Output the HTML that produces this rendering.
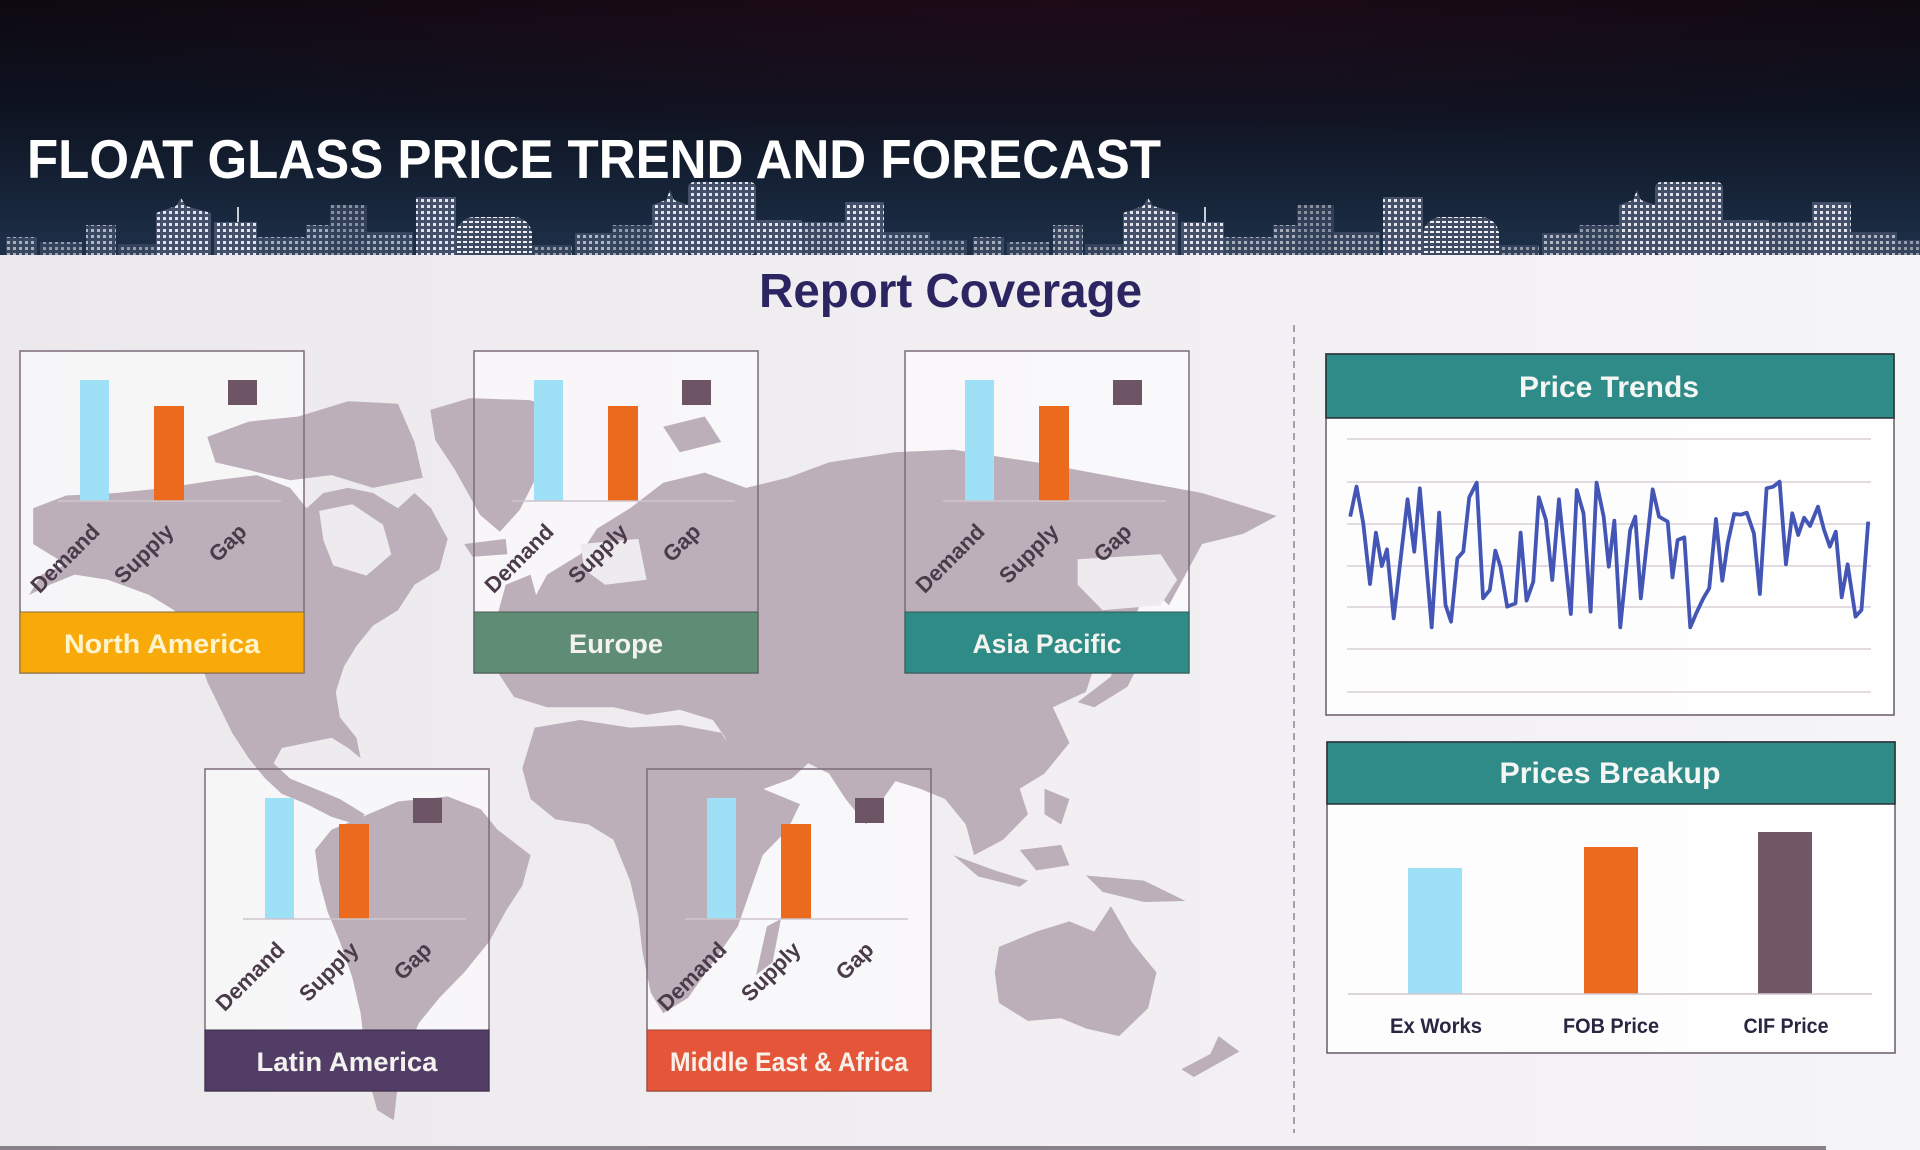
<!DOCTYPE html>
<html><head><meta charset="utf-8"><style>
html,body{margin:0;padding:0;background:#f1eef2;}
svg{display:block;}
text{font-family:"Liberation Sans",Arial,sans-serif;font-weight:bold;}
</style></head><body>
<svg width="1920" height="1150" viewBox="0 0 1920 1150" xmlns="http://www.w3.org/2000/svg">
<defs>
<linearGradient id="hdr" x1="0" y1="0" x2="0" y2="1">
<stop offset="0" stop-color="#0b0910"/><stop offset="0.45" stop-color="#0e1422"/><stop offset="1" stop-color="#1d3049"/>
</linearGradient>
<radialGradient id="maroon" cx="0.55" cy="0" r="0.6">
<stop offset="0" stop-color="#3a0c22" stop-opacity="0.4"/><stop offset="1" stop-color="#3a0c22" stop-opacity="0"/>
</radialGradient>
<linearGradient id="bodyg" x1="0" y1="0" x2="1" y2="0">
<stop offset="0" stop-color="#ece9ed"/><stop offset="0.6" stop-color="#f2eff3"/><stop offset="1" stop-color="#f5f4f7"/>
</linearGradient>
<pattern id="w" width="6" height="6" patternUnits="userSpaceOnUse"><rect width="6" height="6" fill="#45506a"/><rect x="1" y="1" width="3" height="3" fill="#e2e5ee"/></pattern>
<pattern id="w2" width="6" height="5" patternUnits="userSpaceOnUse"><rect width="6" height="5" fill="#3f4a63"/><rect x="1" y="1" width="4" height="2" fill="#eef0f5"/></pattern>
<g id="city">
<rect x="6" y="237" width="31" height="18" fill="url(#w)" opacity="0.7"/>
<rect x="40" y="242" width="42" height="13" fill="url(#w)" opacity="0.6"/>
<rect x="86" y="225" width="30" height="30" fill="url(#w)" opacity="0.75"/>
<rect x="118" y="244" width="38" height="11" fill="url(#w)" opacity="0.6"/>
<polygon points="156,255 156,213 176,206 181,198 186,206 211,213 211,255" fill="url(#w)"/>
<rect x="214" y="222" width="43" height="33" fill="url(#w)"/>
<rect x="237" y="207" width="2" height="15" fill="#c8ccd8"/>
<rect x="257" y="237" width="49" height="18" fill="url(#w)" opacity="0.7"/>
<rect x="306" y="225" width="24" height="30" fill="url(#w)" opacity="0.7"/>
<rect x="330" y="205" width="37" height="50" fill="url(#w)" opacity="0.55"/>
<rect x="367" y="232" width="46" height="23" fill="url(#w)" opacity="0.7"/>
<rect x="416" y="197" width="40" height="58" fill="url(#w)"/>
<rect x="456" y="217" width="76" height="38" rx="18" fill="url(#w2)"/>
<rect x="456" y="232" width="76" height="23" fill="url(#w2)"/>
<rect x="532" y="245" width="40" height="10" fill="url(#w)" opacity="0.6"/>
<rect x="575" y="233" width="37" height="22" fill="url(#w)" opacity="0.75"/>
<rect x="612" y="225" width="40" height="30" fill="url(#w)" opacity="0.6"/>
<polygon points="652,255 652,205 666,200 670,190 674,200 688,205 688,255" fill="url(#w)"/>
<rect x="688" y="182" width="68" height="73" rx="6" fill="url(#w)"/>
<rect x="756" y="220" width="46" height="35" fill="url(#w)"/>
<rect x="802" y="222" width="43" height="33" fill="url(#w)" opacity="0.8"/>
<rect x="845" y="202" width="39" height="53" fill="url(#w)"/>
<rect x="884" y="232" width="46" height="23" fill="url(#w)" opacity="0.75"/>
<rect x="930" y="240" width="37" height="15" fill="url(#w)" opacity="0.6"/>
</g>
</defs>

<!-- body background -->
<rect x="0" y="255" width="1920" height="895" fill="url(#bodyg)"/>

<!-- header -->
<rect x="0" y="0" width="1920" height="255" fill="url(#hdr)"/>
<rect x="0" y="0" width="1920" height="255" fill="url(#maroon)"/>
<use href="#city"/>
<use href="#city" transform="translate(967,0)"/>
<text x="27" y="178" font-size="55" fill="#ffffff" textLength="1134" lengthAdjust="spacingAndGlyphs">FLOAT GLASS PRICE TREND AND FORECAST</text>

<!-- Report coverage -->
<text x="759" y="307" font-size="48" fill="#2b2562" textLength="383" lengthAdjust="spacingAndGlyphs">Report Coverage</text>

<!-- panel white fills -->
<g fill="#ffffff" fill-opacity="0.55">
<rect x="20" y="351" width="284" height="322"/>
<rect x="474" y="351" width="284" height="322"/>
<rect x="905" y="351" width="284" height="322"/>
<rect x="205" y="769" width="284" height="322"/>
<rect x="647" y="769" width="284" height="322"/>
</g>

<!-- world map -->
<g transform="translate(0,340) scale(0.829,0.51)" fill="#bcafba">
<path d="M519,137 L567,114 L639,118 L676,137 L657,196 L645,275 L627,333 L603,376 L579,343 L549,255 L525,196 Z"/>
<path d="M250,190 L300,160 L360,150 L420,120 L480,125 L500,200 L510,270 L450,290 L400,265 L350,275 L300,255 L260,240 Z"/>
<path d="M40,330 L80,305 L140,300 L200,290 L260,275 L310,265 L350,290 L370,330 L390,300 L420,290 L450,300 L480,330 L500,300 L520,330 L540,390 L530,450 L500,480 L480,530 L450,560 L430,600 L415,640 L405,690 L410,740 L430,780 L435,820 L420,800 L400,780 L370,790 L340,800 L330,830 L350,860 L380,880 L410,900 L440,930 L430,950 L400,935 L370,910 L340,890 L320,860 L300,820 L280,770 L265,720 L250,670 L240,620 L230,570 L210,530 L180,500 L130,470 L90,460 L60,480 L35,500 L50,460 L80,440 L60,420 L40,400 Z"/>
<path d="M430,940 L480,905 L540,895 L580,920 L600,960 L640,1010 L630,1070 L610,1120 L590,1180 L560,1240 L530,1290 L505,1340 L490,1400 L480,1460 L475,1530 L455,1510 L445,1450 L440,1390 L435,1320 L425,1250 L410,1180 L395,1120 L385,1060 L380,1000 L400,960 Z"/>
<path d="M620,700 L600,650 L630,620 L615,570 L640,520 L660,460 L700,420 L720,370 L760,330 L800,280 L850,260 L900,290 L950,270 L1000,240 L1080,220 L1150,215 L1250,240 L1350,270 L1450,300 L1540,345 L1500,380 L1450,400 L1430,460 L1410,520 L1385,480 L1370,540 L1340,600 L1320,640 L1310,690 L1270,720 L1290,790 L1260,850 L1230,880 L1240,930 L1210,980 L1175,1010 L1165,950 L1140,900 L1110,880 L1080,865 L1065,900 L1045,950 L1020,900 L1000,850 L975,830 L955,860 L905,890 L885,830 L875,780 L860,745 L820,725 L780,735 L740,720 L700,720 L660,720 Z"/>
<path d="M645,760 L700,745 L760,760 L820,755 L870,770 L890,820 L920,880 L965,910 L950,960 L920,1010 L905,1080 L890,1150 L860,1220 L830,1290 L800,1320 L785,1280 L775,1200 L770,1130 L760,1060 L740,980 L710,950 L670,940 L640,900 L630,840 Z"/>
<path d="M925,1150 L942,1135 L932,1220 L912,1245 Z"/>
<path d="M1205,1190 L1250,1160 L1290,1140 L1320,1160 L1340,1110 L1365,1180 L1395,1240 L1385,1310 L1350,1365 L1310,1350 L1280,1330 L1240,1335 L1205,1300 L1200,1240 Z"/>
<path d="M1470,1365 L1495,1395 L1440,1445 L1425,1430 L1460,1400 Z"/>
<path d="M1150,1010 L1200,1040 L1240,1060 L1230,1072 L1180,1052 Z"/>
<path d="M1230,1000 L1280,990 L1290,1030 L1250,1040 Z"/>
<path d="M1310,1050 L1380,1060 L1430,1100 L1380,1102 L1330,1082 Z"/>
<path d="M1260,880 L1290,900 L1280,950 L1260,930 Z"/>
<path d="M1350,600 L1370,560 L1385,600 L1360,680 L1320,720 L1300,710 L1340,660 Z"/>
<path d="M610,480 L640,460 L650,520 L630,560 L600,540 Z"/>
<path d="M560,400 L610,390 L612,420 L570,425 Z"/>
<path d="M800,170 L850,150 L870,200 L820,220 Z"/>
</g>
<g transform="translate(0,340) scale(0.829,0.51)" fill="#eeebef">
<path d="M385,335 L425,322 L462,362 L472,420 L442,462 L402,442 L390,392 Z"/>
<path d="M1300,430 L1400,420 L1420,470 L1400,520 L1330,530 L1300,480 Z"/>
<path d="M700,400 L770,390 L780,470 L730,480 L705,450 Z"/>
</g>

<!-- region panels -->
<g id="p1" transform="translate(20,351)">
<rect x="60" y="29" width="29" height="121" fill="#9ee1f6"/>
<rect x="134" y="55" width="30" height="95" fill="#ec6a1e"/>
<rect x="208" y="29" width="29" height="25" fill="#6e5565"/>
<line x1="38" y1="150" x2="261" y2="150" stroke="#cdc5cd" stroke-width="1.5"/>
<g font-size="22" fill="#4b3a4a" text-anchor="end">
<text transform="translate(81,182) rotate(-45)">Demand</text>
<text transform="translate(155,182) rotate(-45)">Supply</text>
<text transform="translate(228,182) rotate(-45)">Gap</text>
</g>
<rect x="0" y="0" width="284" height="322" fill="none" stroke="#7c6b7a" stroke-width="1.5"/>
</g>
<use href="#p1" transform="translate(454,0)"/>
<use href="#p1" transform="translate(885,0)"/>
<use href="#p1" transform="translate(185,418)"/>
<use href="#p1" transform="translate(627,418)"/>

<!-- bands -->
<rect x="20" y="612" width="284" height="61" fill="#f7aa0a" stroke="#8a6a40" stroke-width="1"/>
<text x="162" y="653" font-size="27" fill="#fff4cc" text-anchor="middle" textLength="196" lengthAdjust="spacingAndGlyphs">North America</text>
<rect x="474" y="612" width="284" height="61" fill="#5f8c74" stroke="#4b5a52" stroke-width="1"/>
<text x="616" y="653" font-size="27" fill="#f3f2ee" text-anchor="middle" textLength="94" lengthAdjust="spacingAndGlyphs">Europe</text>
<rect x="905" y="612" width="284" height="61" fill="#2f8b86" stroke="#2f5a58" stroke-width="1"/>
<text x="1047" y="653" font-size="27" fill="#f3f2ee" text-anchor="middle" textLength="149" lengthAdjust="spacingAndGlyphs">Asia Pacific</text>
<rect x="205" y="1030" width="284" height="61" fill="#513d66" stroke="#3a2c48" stroke-width="1"/>
<text x="347" y="1071" font-size="27" fill="#f3f2ee" text-anchor="middle" textLength="181" lengthAdjust="spacingAndGlyphs">Latin America</text>
<rect x="647" y="1030" width="284" height="61" fill="#e4553a" stroke="#a0452e" stroke-width="1"/>
<text x="789" y="1071" font-size="27" fill="#f8efe8" text-anchor="middle" textLength="238" lengthAdjust="spacingAndGlyphs">Middle East &amp; Africa</text>

<!-- dashed divider -->
<line x1="1294" y1="325" x2="1294" y2="1133" stroke="#8d8595" stroke-width="1.5" stroke-dasharray="7 5"/>

<!-- Price Trends -->
<rect x="1326" y="354" width="568" height="361" fill="#ffffff" fill-opacity="0.85" stroke="#6a5a6a" stroke-width="1.5"/>
<rect x="1326" y="354" width="568" height="64" fill="#2f8b88" stroke="#2a2e36" stroke-width="1.5"/>
<text x="1609" y="397" font-size="30" fill="#f4f6f4" text-anchor="middle" textLength="180" lengthAdjust="spacingAndGlyphs">Price Trends</text>
<g stroke="#d9d1d9" stroke-width="1.5">
<line x1="1347" y1="439" x2="1871" y2="439"/>
<line x1="1347" y1="482" x2="1871" y2="482"/>
<line x1="1347" y1="524" x2="1871" y2="524"/>
<line x1="1347" y1="566" x2="1871" y2="566"/>
<line x1="1347" y1="607" x2="1871" y2="607"/>
<line x1="1347" y1="649" x2="1871" y2="649"/>
<line x1="1347" y1="692" x2="1871" y2="692"/>
</g>
<g transform="translate(1300,340) scale(0.3954,0.33333)">
<polyline fill="none" stroke="#4356b6" stroke-width="3.8" stroke-linejoin="round" vector-effect="non-scaling-stroke" points="127,530 143,440 160,550 177,732 192,578 207,678 220,628 237,835 272,478 289,635 303,445 333,862 352,518 368,795 382,845 398,655 413,635 428,472 447,428 463,775 480,750 494,632 507,680 524,800 545,790 558,578 573,782 590,725 604,472 622,540 638,720 655,478 685,822 700,450 717,520 735,815 750,428 768,530 781,680 795,542 810,862 835,570 848,530 862,775 892,448 908,530 930,545 942,712 955,600 972,592 987,862 1002,820 1020,775 1035,745 1052,537 1068,722 1082,608 1098,522 1115,524 1130,518 1148,580 1163,762 1180,445 1197,440 1213,425 1229,673 1245,520 1260,585 1275,533 1290,558 1310,500 1325,568 1340,620 1355,575 1370,772 1385,673 1405,830 1420,810 1437,545"/>
</g>

<!-- Prices Breakup -->
<rect x="1327" y="742" width="568" height="311" fill="#ffffff" fill-opacity="0.85" stroke="#6a5a6a" stroke-width="1.5"/>
<rect x="1327" y="742" width="568" height="62" fill="#2f8b88" stroke="#2a2e36" stroke-width="1.5"/>
<text x="1610" y="783" font-size="30" fill="#f4f6f4" text-anchor="middle" textLength="221" lengthAdjust="spacingAndGlyphs">Prices Breakup</text>
<rect x="1408" y="868" width="54" height="126" fill="#9ee1f6"/>
<rect x="1584" y="847" width="54" height="147" fill="#ec6a1e"/>
<rect x="1758" y="832" width="54" height="162" fill="#725866"/>
<line x1="1348" y1="994" x2="1872" y2="994" stroke="#cfc7cf" stroke-width="1.5"/>
<g font-size="21" fill="#2a2540" text-anchor="middle">
<text x="1436" y="1033" textLength="92" lengthAdjust="spacingAndGlyphs">Ex Works</text>
<text x="1611" y="1033" textLength="96" lengthAdjust="spacingAndGlyphs">FOB Price</text>
<text x="1786" y="1033" textLength="85" lengthAdjust="spacingAndGlyphs">CIF Price</text>
</g>

<!-- bottom line -->
<rect x="0" y="1146" width="1826" height="4" fill="#8a808c"/>
</svg>
</body></html>
